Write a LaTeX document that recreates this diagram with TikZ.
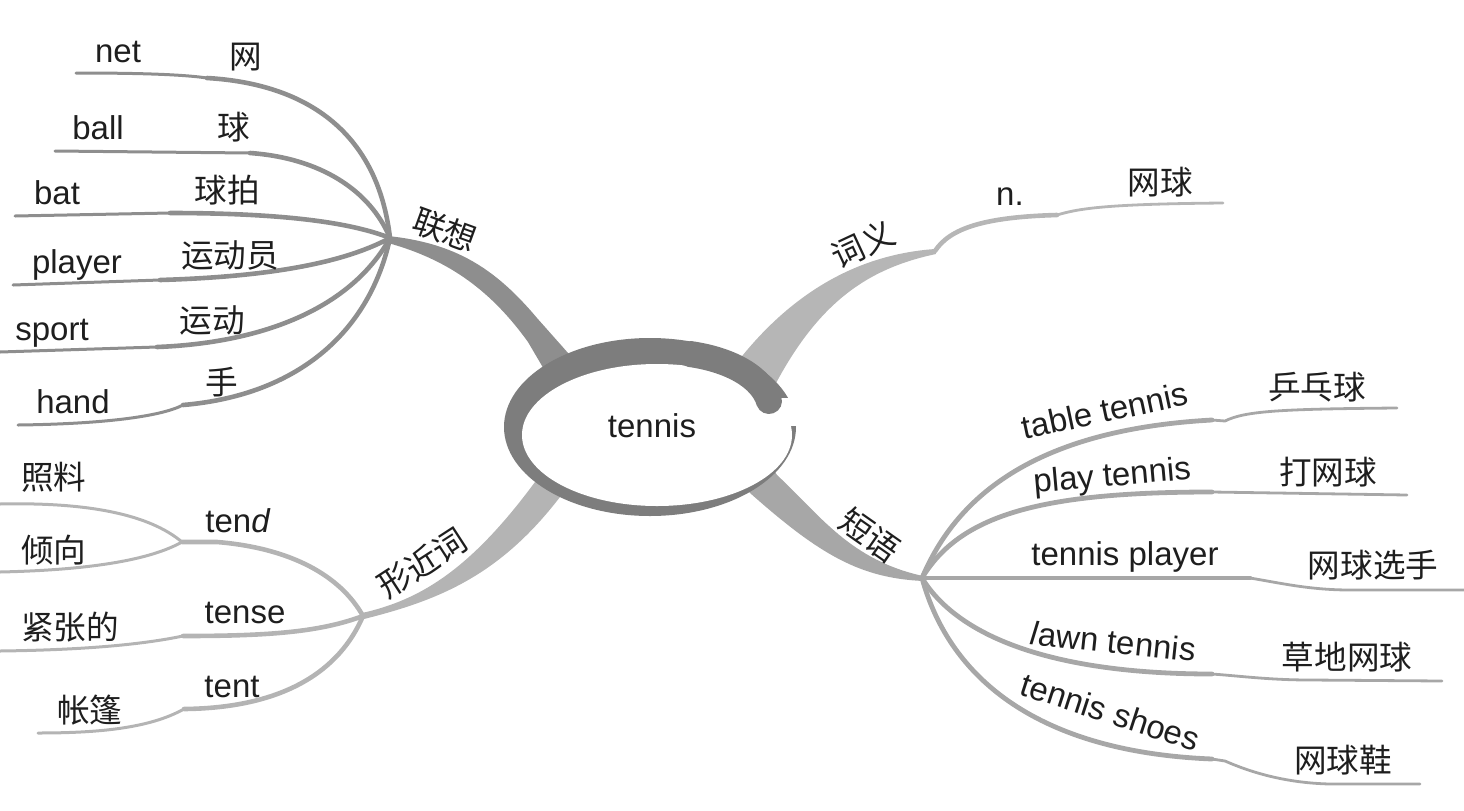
\documentclass[tikz,border=0pt]{standalone}
\usepackage{fontspec}
\setmainfont{Liberation Sans}
\newfontfamily\cjk{Noto Sans CJK SC}
\definecolor{cA}{HTML}{8E8E8E}
\definecolor{cB}{HTML}{B6B6B6}
\definecolor{cC}{HTML}{B4B4B4}
\definecolor{cD}{HTML}{A7A7A7}
\definecolor{ring}{HTML}{7D7D7D}
\definecolor{txt}{HTML}{1E1E1E}
\tikzset{
  en/.style={font=\fontsize{16.5}{20}\selectfont, text=txt, inner sep=0pt, anchor=base},
  zh/.style={font=\cjk\fontsize{16.3}{20}\selectfont, text=txt, inner sep=0pt},
  inA/.style={draw=cA, line width=2.3pt, line cap=round},
  outA/.style={draw=cA, line width=1.5pt, line cap=round},
  inB/.style={draw=cB, line width=2.3pt, line cap=round},
  outB/.style={draw=cB, line width=1.4pt, line cap=round},
  inC/.style={draw=cC, line width=2.3pt, line cap=round},
  outC/.style={draw=cC, line width=1.5pt, line cap=round},
  inD/.style={draw=cD, line width=2.4pt, line cap=round},
  outD/.style={draw=cD, line width=1.4pt, line cap=round},
}
\begin{document}
\begin{tikzpicture}[x=0.5pt,y=-0.5pt]
\useasboundingbox (0,0) rectangle (1464,810);

% hubs
\coordinate (hA) at (390,238);
\coordinate (hB) at (935,251);
\coordinate (hC) at (363,616);
\coordinate (hD) at (922,578);
\coordinate (hT) at (182,542);

% ---- 联想 branches
\coordinate (netE) at (76,73);   \coordinate (netS) at (207,78);
\coordinate (ballE) at (55,151); \coordinate (ballS) at (250,153);
\coordinate (batE) at (15,216);  \coordinate (batS) at (170,213);
\coordinate (plE) at (13,285);   \coordinate (plS) at (160,280);
\coordinate (spE) at (0,352);    \coordinate (spS) at (157,347);
\coordinate (haE) at (18,425);   \coordinate (haS) at (183,405);
\draw[outA] (netE) .. controls (130,73) and (180,74) .. (netS);
\draw[inA] (netS) .. controls (310,84) and (378,135) .. (hA);
\draw[outA] (ballE) -- (ballS);
\draw[inA] (ballS) .. controls (320,158) and (370,190) .. (hA);
\draw[outA] (batE) -- (batS);
\draw[inA] (batS) .. controls (280,213) and (350,222) .. (hA);
\draw[outA] (plE) -- (plS);
\draw[inA] (plS) .. controls (260,277) and (340,265) .. (hA);
\draw[outA] (spE) -- (spS);
\draw[inA] (spS) .. controls (260,343) and (350,310) .. (hA);
\draw[outA] (haE) .. controls (100,424) and (160,417) .. (haS);
\draw[inA] (haS) .. controls (300,395) and (370,330) .. (hA);

% ---- 形近词 branches
\coordinate (zlE) at (0,504);
\coordinate (qxE) at (0,572);
\coordinate (tsS) at (183,636); \coordinate (tsE) at (0,651);
\coordinate (ttS) at (184,709); \coordinate (ttE) at (38,733);
\draw[inC] (hT) -- (217,542) .. controls (290,548) and (340,575) .. (hC);
\draw[outC] (zlE) .. controls (90,502) and (150,515) .. (hT);
\draw[outC] (qxE) .. controls (90,570) and (150,560) .. (hT);
\draw[inC] (hC) .. controls (320,632) and (270,636) .. (tsS);
\draw[outC] (tsS) .. controls (140,645) and (80,650) .. (tsE);
\draw[inC] (hC) .. controls (340,670) and (285,708) .. (ttS);
\draw[outC] (ttS) .. controls (150,728) and (100,733) .. (ttE);

% ---- 词义 branch
\coordinate (nS) at (1057,215); \coordinate (nE) at (1223,203);
\draw[inB] (hB) .. controls (950,228) and (985,217) .. (nS);
\draw[outB] (nS) .. controls (1080,208) and (1110,204) .. (nE);

% ---- 短语 branches
\coordinate (tbS) at (1212,420);  \coordinate (tbE) at (1397,408);
\coordinate (plyS) at (1212,492); \coordinate (plyE) at (1407,495);
\coordinate (tpS) at (1250,578);  \coordinate (tpE) at (1464,590);
\coordinate (lwS) at (1212,674);  \coordinate (lwE) at (1442,681);
\coordinate (shS) at (1212,759);  \coordinate (shE) at (1420,784);
\draw[inD] (hD) .. controls (955,500) and (1030,430) .. (tbS);
\draw[outD] (tbS) -- (1225,421) .. controls (1245,411) and (1280,409) .. (tbE);
\draw[inD] (hD) .. controls (960,515) and (1040,492) .. (plyS);
\draw[outD] (plyS) -- (plyE);
\draw[inD] (hD) -- (tpS);
\draw[outD] (tpS) .. controls (1280,583) and (1310,590) .. (1350,590) -- (tpE);
\draw[inD] (hD) .. controls (960,640) and (1060,674) .. (lwS);
\draw[outD] (lwS) .. controls (1240,676) and (1270,680) .. (1310,680) -- (lwE);
\draw[inD] (hD) .. controls (950,680) and (1040,752) .. (shS);
\draw[outD] (shS) -- (1225,761) .. controls (1250,772) and (1285,783) .. (1330,784) -- (shE);

% ---- trunks
\fill[cA] (388,236) .. controls (455,243) and (495,268) .. (537,318) -- (592,380) -- (555,388) -- (528,342) .. controls (492,292) and (450,260) .. (388,243) -- cycle;
\fill[cB] (735,365) .. controls (785,300) and (850,255) .. (935,249) -- (936,254) .. controls (870,268) and (820,300) .. (775,385) -- cycle;
\fill[cC] (362,613) .. controls (420,600) and (470,570) .. (535,482) -- (550,460) -- (585,470) -- (560,497) .. controls (500,575) and (440,600) .. (364,619) -- cycle;
\fill[cD] (765,455) -- (777,475) .. controls (820,515) and (850,560) .. (923,576) -- (923,581) .. controls (860,578) and (820,555) .. (750,493) -- (740,480) -- cycle;

% ---- central swirl
\fill[ring] (650,427) ellipse [x radius=146, y radius=89];
\fill[white] (657,435) ellipse [x radius=135, y radius=71];
\fill[white] (781,398) rectangle (800,426);
\draw[ring, line width=13pt, line cap=round] (690,354) .. controls (732,360) and (762,378) .. (769,401);
\node[en] (center) at (652,437) {tennis};

% ---- labels 联想
\node[zh, rotate=-20] (lA) at (445,230) {联想};
\node[en] (t1) at (118,62) {net};     \node[zh] (z1) at (246,57) {网};
\node[en] (t2) at (98,139) {ball};    \node[zh] (z2) at (234,127) {球};
\node[en] (t3) at (57,204) {bat};     \node[zh] (z3) at (227,190) {球拍};
\node[en] (t4) at (77,273) {player};  \node[zh] (z4) at (230,255) {运动员};
\node[en] (t5) at (52,340) {sport};   \node[zh] (z5) at (212,320) {运动};
\node[en] (t6) at (73,413) {hand};    \node[zh] (z6) at (222,382) {手};

% ---- labels 形近词
\node[zh, rotate=33] (lC) at (422,563) {形近词};
\node[en] (t7) at (238,532) {ten\textit{d}};
\node[en] (t8) at (245,623) {tense};
\node[en] (t9) at (232,697) {tent};
\node[zh] (z7) at (54,477) {照料};
\node[zh] (z8) at (54,550) {倾向};
\node[zh] (z9) at (70,627) {紧张的};
\node[zh] (z10) at (90,710) {帐篷};

% ---- labels 词义
\node[zh, rotate=25] (lB) at (863,244) {词义};
\node[en] (t10) at (1010,205) {n.};
\node[zh] (z11) at (1160,182) {网球};

% ---- labels 短语
\node[zh, rotate=-35] (lD) at (870,535) {短语};
\node[en, rotate=12] (t11) at (1107,422) {table tennis};
\node[en, rotate=5] (t12) at (1113,486) {play tennis};
\node[en] (t13) at (1125,565) {tennis player};
\node[en, rotate=-6] (t14) at (1112,653) {\textit{l}awn tennis};
\node[en, rotate=-18] (t15) at (1107,723) {tennis shoes};
\node[zh] (z12) at (1317,387) {乒乓球};
\node[zh] (z13) at (1328,472) {打网球};
\node[zh] (z14) at (1373,565) {网球选手};
\node[zh] (z15) at (1347,657) {草地网球};
\node[zh] (z16) at (1343,760) {网球鞋};
\end{tikzpicture}
\end{document}
